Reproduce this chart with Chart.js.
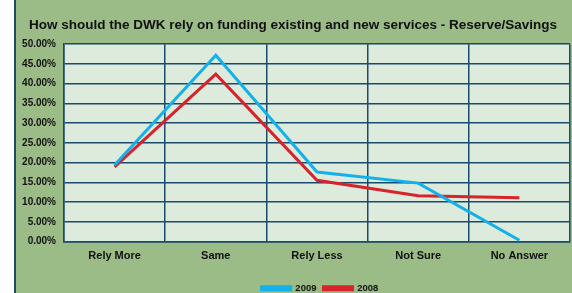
<!DOCTYPE html>
<html>
<head>
<meta charset="utf-8">
<script src="https://cdn.jsdelivr.net/npm/chart.js@4/dist/chart.umd.min.js"></script>
<style>
  html, body { margin: 0; padding: 0; background: #fff; }
  #wrap {
    position: absolute; left: 14px; top: 0;
    width: 556px; height: 293px;
    border-left: 2px solid #1b4a6b;
    background: #9bbb87;
  }
</style>
</head>
<body>
<div id="wrap"><canvas id="chart" width="556" height="293"></canvas></div>
<script>
// data
const categories = ['Rely More', 'Same', 'Rely Less', 'Not Sure', 'No Answer'];
const values2009 = [19.4, 47.2, 17.6, 14.8, 0.3];
const values2008 = [18.9, 42.4, 15.5, 11.6, 11.1];

const gridColor = '#1b4a6b';
const fontFamily = '"Liberation Sans", Arial, sans-serif';

// light green fill behind the plot
const plotBg = {
    id: 'plotBg',
    beforeDraw(chart) {
        const { ctx, chartArea: a } = chart;
        ctx.save();
        ctx.fillStyle = '#dcebdc';
        ctx.fillRect(a.left, a.top, a.right - a.left, a.bottom - a.top);
        ctx.restore();
    }
};

// legend sits a bit right of centre in the original
const legendShift = {
    id: 'legendShift',
    afterLayout(chart) {
        chart.legend.left += 27;
        chart.legend.right += 27;
    }
};

const ctx = document.getElementById('chart').getContext('2d');
const chart = new Chart(ctx, {
    type: 'line',
    data: {
        labels: categories,
        datasets: [{
            label: '2009',
            data: values2009,
            borderColor: '#13b0ec',
            backgroundColor: '#13b0ec',
            borderWidth: 3,
            pointRadius: 0,
            tension: 0
        }, {
            label: '2008',
            data: values2008,
            borderColor: '#d8232c',
            backgroundColor: '#d8232c',
            borderWidth: 3,
            pointRadius: 0,
            tension: 0
        }]
    },
    options: {
        responsive: false,
        animation: false,
        layout: { padding: { left: 0, right: 2, top: 0, bottom: -10 } },
        plugins: {
            title: {
                display: true,
                text: 'How should the DWK rely on funding existing and new services - Reserve/Savings',
                color: '#111',
                font: { family: fontFamily, size: 13.5, weight: 'bold' },
                padding: { top: 17, bottom: 11 }
            },
            legend: {
                position: 'bottom',
                labels: {
                    color: '#111',
                    font: { family: fontFamily, size: 9.5, weight: 'bold' },
                    boxWidth: 29,
                    boxHeight: 3,
                    padding: 7
                }
            },
            tooltip: { enabled: false }
        },
        scales: {
            x: {
                offset: true,
                grid: { offset: true, color: gridColor, lineWidth: 1.5, drawTicks: false },
                border: { color: gridColor, width: 1.5 },
                ticks: {
                    color: '#111',
                    padding: 8,
                    font: { family: fontFamily, size: 11, weight: 'bold' }
                },
                afterFit(scale) { scale.height = 35; }
            },
            y: {
                min: 0,
                max: 50,
                grid: { color: gridColor, lineWidth: 1.5, drawTicks: false },
                border: { color: gridColor, width: 1.5 },
                ticks: {
                    stepSize: 5,
                    color: '#111',
                    padding: 8,
                    font: { family: fontFamily, size: 10, weight: 'bold' },
                    callback: v => v.toFixed(2) + '%'
                },
                afterFit(scale) { scale.width = 48; }
            }
        }
    },
    plugins: [plotBg, legendShift]
});
</script>
</body>
</html>
